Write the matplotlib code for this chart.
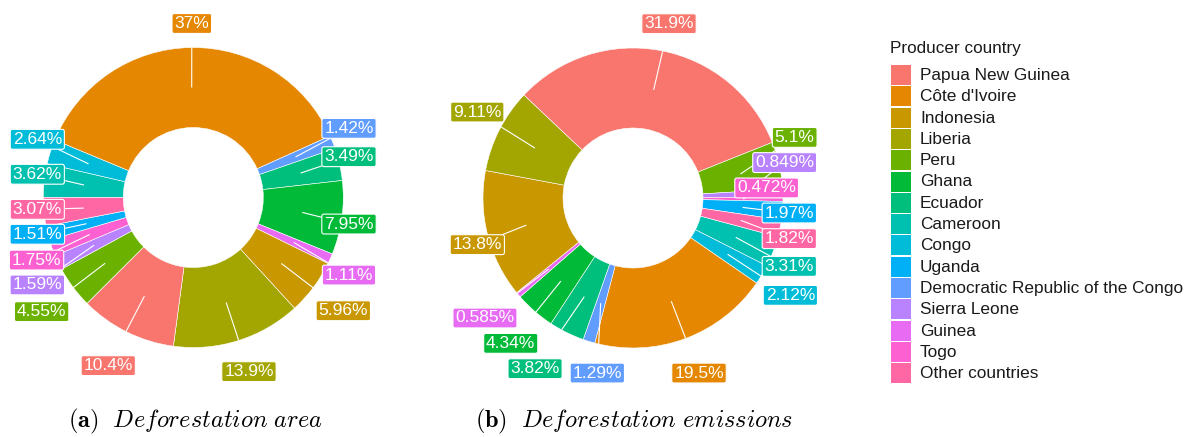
import matplotlib
matplotlib.use("Agg")
import matplotlib.pyplot as plt
from matplotlib.patches import Rectangle
import numpy as np

plt.rcParams["mathtext.fontset"] = "cm"

# Legend order (ggplot hue palette follows this order)
legend_countries = [
    "Papua New Guinea", "Côte d'Ivoire", "Indonesia", "Liberia", "Peru",
    "Ghana", "Ecuador", "Cameroon", "Congo", "Uganda",
    "Democratic Republic of the Congo", "Sierra Leone", "Guinea", "Togo",
    "Other countries",
]
legend_colors = [
    "#F8766D", "#E58700", "#C99800", "#A3A500", "#6BB100",
    "#00BA38", "#00BF7D", "#00C0AF", "#00BCD8", "#00B0F6",
    "#619CFF", "#B983FF", "#E76BF3", "#FD61D1", "#FF67A4",
]

# Slice order around each donut (clockwise)
slice_countries = [
    "Cameroon", "Congo", "Côte d'Ivoire", "Democratic Republic of the Congo",
    "Ecuador", "Ghana", "Guinea", "Indonesia", "Liberia", "Papua New Guinea",
    "Peru", "Sierra Leone", "Togo", "Uganda", "Other countries",
]

# Shares in percent
area_share = [3.62, 2.64, 37, 1.42, 3.49, 7.95, 1.11, 5.96, 13.9, 10.4,
              4.55, 1.59, 1.75, 1.51, 3.07]
emission_share = [3.31, 2.12, 19.5, 1.29, 3.82, 4.34, 0.585, 13.8, 9.11, 31.9,
                  5.1, 0.849, 0.472, 1.97, 1.82]

# Label box positions, in units of the outer radius relative to the centre
area_label_pos = [
    (-1.04, 0.155), (-1.04, 0.388), (-0.01, 1.16), (1.038, 0.461),
    (1.038, 0.272), (1.038, -0.177), (1.038, -0.517), (1.0, -0.755),
    (0.371, -1.161), (-0.567, -1.121), (-1.011, -0.761), (-1.04, -0.583),
    (-1.045, -0.417), (-1.04, -0.245), (-1.04, -0.079),
]
emission_label_pos = [
    (1.042, -0.456), (1.049, -0.649), (0.44, -1.167), (-0.238, -1.167),
    (-0.653, -1.138), (-0.815, -0.969), (-0.987, -0.80), (-1.038, -0.311),
    (-1.038, 0.573), (0.24, 1.162), (1.078, 0.404), (1.011, 0.236),
    (0.891, 0.067), (1.042, -0.10), (1.042, -0.271),
]

W, H = 1191, 437
R_OUT, R_IN = 150, 70
LABEL_FONT = "Liberation Sans"

fig = plt.figure(figsize=(W / 100, H / 100), dpi=100)
ax = fig.add_axes([0, 0, 1, 1])
ax.set_axis_off()

color_of = dict(zip(legend_countries, legend_colors))


def ray_box(p0, d, bb):
    """Parameter where the ray p0 + t*d enters the box bb (or inf)."""
    tmin, tmax = -np.inf, np.inf
    for k, (lo, hi) in enumerate(((bb.x0, bb.x1), (bb.y0, bb.y1))):
        if abs(d[k]) < 1e-12:
            if not (lo <= p0[k] <= hi):
                return np.inf
            continue
        t1, t2 = (lo - p0[k]) / d[k], (hi - p0[k]) / d[k]
        tmin, tmax = max(tmin, min(t1, t2)), min(tmax, max(t1, t2))
    if tmin > tmax or tmax < 0:
        return np.inf
    return max(tmin, 0.0)


def donut(cx, cy, shares, start, label_pos):
    colors = [color_of[c] for c in slice_countries]
    wedges, _ = ax.pie(
        shares, colors=colors, startangle=start, counterclock=False,
        radius=R_OUT, center=(cx, cy), frame=True,
        wedgeprops=dict(width=R_OUT - R_IN, edgecolor="white", linewidth=0.4),
    )
    items = []
    for w, v, col, (ox, oy) in zip(wedges, shares, colors, label_pos):
        lx, ly = cx + ox * R_OUT, cy + oy * R_OUT
        t = ax.text(
            lx, ly, f"{v:.3g}%", ha="center", va="center", color="white",
            fontsize=12.5, family=LABEL_FONT, zorder=6,
            bbox=dict(boxstyle="round,pad=0.14,rounding_size=0.12",
                      fc=col, ec="white", lw=0.8),
        )
        mid = np.deg2rad((w.theta1 + w.theta2) / 2)
        items.append((t, mid, lx, ly))
    return items


area_items = donut(193.3, H - 197.5, area_share, 180, area_label_pos)
emis_items = donut(633.0, H - 198.0, emission_share, -15, emission_label_pos)

ax.set_xlim(0, W)
ax.set_ylim(0, H)
ax.set_aspect("auto")

# Legend
ax.text(890, H - 48, "Producer country", va="center", ha="left",
        fontsize=12.3, family=LABEL_FONT, color="#1a1a1a")
for i, (name, col) in enumerate(zip(legend_countries, legend_colors)):
    top = H - (65 + i * 21.3)
    ax.add_patch(Rectangle((891, top - 20), 20, 20, fc=col, ec="none"))
    ax.text(920, top - 10.5, name, va="center", ha="left", fontsize=12.4,
            family=LABEL_FONT, color="#1a1a1a")

# Sub-captions
ax.text(195, 16, r"$\mathbf{(a)}\ \ \mathit{Deforestation\ area}$",
        ha="center", va="center", fontsize=17.5)
ax.text(634, 16, r"$\mathbf{(b)}\ \ \mathit{Deforestation\ emissions}$",
        ha="center", va="center", fontsize=17.5)

# Leader lines from the middle of each ring segment towards its label
fig.canvas.draw()
for (cx, cy), items in (((193.3, H - 197.5), area_items),
                        ((633.0, H - 198.0), emis_items)):
    for t, mid, lx, ly in items:
        r0 = (R_OUT + R_IN) / 2
        p0 = np.array([cx + r0 * np.cos(mid), cy + r0 * np.sin(mid)])
        d = np.array([lx, ly]) - p0
        # exit from the outer circle
        q = p0 - np.array([cx, cy])
        a, b, c = d @ d, 2 * q @ d, q @ q - R_OUT ** 2
        t_circ = (-b + np.sqrt(b * b - 4 * a * c)) / (2 * a)
        bb = t.get_bbox_patch().get_window_extent()
        t_box = ray_box(p0, d, bb)
        t_end = min(t_circ, t_box, 1.0)
        if t_end <= 0.02:
            continue
        p1 = p0 + t_end * d
        ax.plot([p0[0], p1[0]], [p0[1], p1[1]], color="white", lw=0.8,
                zorder=5, solid_capstyle="butt")

fig.savefig("out.png", dpi=100)
